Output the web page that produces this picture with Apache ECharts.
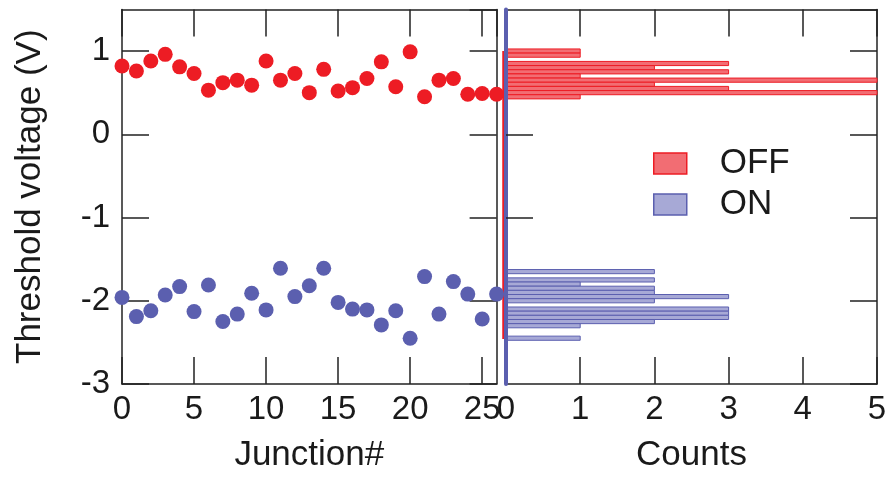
<!DOCTYPE html>
<html>
<head>
<meta charset="utf-8">
<script src="https://cdn.jsdelivr.net/npm/echarts@6/dist/echarts.min.js"></script>
<style>
  html, body { margin: 0; padding: 0; background: #ffffff; }
  #chart { width: 886px; height: 484px; }
</style>
</head>
<body>
<div id="chart"></div>
<script>
// ---- data ----
const junction = [0,1,2,3,4,5,6,7,8,9,10,11,12,13,14,15,16,17,18,19,20,21,22,23,24,25,26];
const offVoltage = [0.82,0.76,0.88,0.96,0.81,0.73,0.53,0.62,0.65,0.59,0.88,0.65,0.73,0.50,0.78,0.52,0.56,0.67,0.87,0.57,0.99,0.45,0.65,0.67,0.48,0.49,0.48];
const onVoltage = [-1.96,-2.19,-2.12,-1.93,-1.83,-2.13,-1.81,-2.25,-2.16,-1.91,-2.11,-1.61,-1.95,-1.82,-1.61,-2.02,-2.10,-2.11,-2.29,-2.12,-2.45,-1.71,-2.16,-1.77,-1.92,-2.22,-1.92];

const offBinCenters = [1.00,0.95,0.90,0.85,0.80,0.75,0.70,0.65,0.60,0.55,0.50,0.45];
const offCounts     = [1,1,0,3,2,3,1,5,2,3,5,1];
const onBinCenters  = [-1.65,-1.70,-1.75,-1.80,-1.85,-1.90,-1.95,-2.00,-2.05,-2.10,-2.15,-2.20,-2.25,-2.30,-2.35,-2.40,-2.45];
const onCounts      = [2,0,2,1,2,2,3,2,0,3,3,3,2,1,0,0,1];
const binWidth = 0.05;
const offBaseline = [1.0, -2.46];

const seriesNames = ['OFF', 'ON'];

// ---- styles ----
const FONT = "'Liberation Sans', Arial, sans-serif";
const TXT = '#1a1a1a';
const RED = '#ED1C24';
const BLUE = '#5B5FAF';
const RED_FILL = '#F26D73';
const BLUE_FILL = '#A7A9D6';
const AX = '#222222';

function frameX(grid, pos, min, max, interval, labels, name) {
  return {
    type: 'value', gridIndex: grid, position: pos, min: min, max: max, interval: interval,
    axisLine: { show: true, onZero: false, lineStyle: { color: AX, width: 1.5 } },
    axisTick: { show: true, inside: true, length: 27, lineStyle: { color: AX, width: 1.5 } },
    axisLabel: labels ? { show: true, fontSize: 33, color: TXT, fontFamily: FONT, margin: 9, showMaxLabel: max % interval === 0 } : { show: false },
    splitLine: { show: false },
    name: name || '', nameLocation: 'middle', nameGap: 54,
    nameTextStyle: { fontSize: 35, color: TXT, fontFamily: FONT }
  };
}
function frameY(grid, pos, labels, name, extra) {
  const a = {
    type: 'value', gridIndex: grid, position: pos, min: -3, max: 1.5, interval: 1,
    axisLine: { show: true, onZero: false, lineStyle: { color: AX, width: 1.5 } },
    axisTick: { show: true, inside: true, length: 27, lineStyle: { color: AX, width: 1.5 } },
    axisLabel: labels ? { show: true, fontSize: 33, color: TXT, fontFamily: FONT, margin: 12, showMaxLabel: false } : { show: false },
    splitLine: { show: false },
    name: name || '', nameLocation: 'middle', nameGap: 74,
    nameTextStyle: { fontSize: 35, color: TXT, fontFamily: FONT }
  };
  return Object.assign(a, extra || {});
}

function histRender(fill, stroke) {
  return function (params, api) {
    const c = api.value(0);
    const v = api.value(1);
    if (!c) return null;
    const p1 = api.coord([0, v + binWidth / 2]);
    const p2 = api.coord([c, v - binWidth / 2]);
    return {
      type: 'rect',
      shape: { x: p1[0], y: p1[1], width: p2[0] - p1[0], height: p2[1] - p1[1] },
      style: { fill: fill, stroke: stroke, lineWidth: 1 }
    };
  };
}

const chart = echarts.init(document.getElementById('chart'), null, { renderer: 'canvas' });
chart.setOption({
  animation: false,
  backgroundColor: '#ffffff',
  textStyle: { fontFamily: FONT },
  grid: [
    { left: 122, top: 9.4, width: 374.6, height: 374.6, outerBoundsMode: 'none', containLabel: false },
    { left: 506, top: 9.4, width: 371, height: 374.6, outerBoundsMode: 'none', containLabel: false }
  ],
  xAxis: [
    frameX(0, 'bottom', 0, 26, 5, true, 'Junction#'),
    frameX(0, 'top', 0, 26, 5, false),
    frameX(1, 'bottom', 0, 5, 1, true, 'Counts'),
    frameX(1, 'top', 0, 5, 1, false)
  ],
  yAxis: [
    frameY(0, 'left', true, 'Threshold voltage (V)'),
    frameY(0, 'right', false),
    frameY(1, 'left', false, '', {
      z: 10,
      axisLine: { show: true, onZero: false, lineStyle: { color: BLUE, width: 4 } },
      axisTick: { show: true, inside: true, length: 27, customValues: [0, -1], lineStyle: { color: AX, width: 1.5 } }
    }),
    frameY(1, 'right', false)
  ],
  legend: {
    orient: 'vertical', left: 648, top: 138, icon: 'rect',
    itemWidth: 33, itemHeight: 21, itemGap: 0, selectedMode: false,
    textStyle: { fontSize: 35, color: TXT, fontFamily: FONT, lineHeight: 41, padding: [0, 0, 0, 28] },
    data: [
      { name: seriesNames[0], itemStyle: { color: RED_FILL, borderColor: RED, borderWidth: 1.5 } },
      { name: seriesNames[1], itemStyle: { color: BLUE_FILL, borderColor: BLUE, borderWidth: 1.5 } }
    ]
  },
  series: [
    {
      name: seriesNames[0], type: 'custom', xAxisIndex: 2, yAxisIndex: 2, clip: false, z: 3,
      encode: { x: 0, y: 1 },
      itemStyle: { color: RED_FILL, borderColor: RED },
      data: offCounts.map((c, i) => [c, offBinCenters[i]]),
      renderItem: histRender(RED_FILL, RED)
    },
    {
      name: seriesNames[1], type: 'custom', xAxisIndex: 2, yAxisIndex: 2, clip: false, z: 3,
      encode: { x: 0, y: 1 },
      itemStyle: { color: BLUE_FILL, borderColor: BLUE },
      data: onCounts.map((c, i) => [c, onBinCenters[i]]),
      renderItem: histRender(BLUE_FILL, BLUE)
    },
    {
      name: 'baseline', type: 'custom', xAxisIndex: 2, yAxisIndex: 2, clip: false, z: 4,
      encode: { x: 0, y: 1 }, silent: true,
      data: [[0, offBaseline[0], offBaseline[1]]],
      renderItem: function (params, api) {
        const p1 = api.coord([api.value(0), api.value(1)]);
        const p2 = api.coord([api.value(0), api.value(2)]);
        return { type: 'line', shape: { x1: p1[0] - 2.5, y1: p1[1], x2: p2[0] - 2.5, y2: p2[1] }, style: { stroke: RED, lineWidth: 2.5 } };
      }
    },
    {
      name: 'OFF points', type: 'scatter', xAxisIndex: 0, yAxisIndex: 0, clip: false, z: 5,
      symbol: 'circle', symbolSize: 15, itemStyle: { color: RED, opacity: 1 },
      data: junction.map((j, i) => [j, offVoltage[i]])
    },
    {
      name: 'ON points', type: 'scatter', xAxisIndex: 0, yAxisIndex: 0, clip: false, z: 5,
      symbol: 'circle', symbolSize: 15, itemStyle: { color: BLUE, opacity: 1 },
      data: junction.map((j, i) => [j, onVoltage[i]])
    }
  ]
});
</script>
</body>
</html>
